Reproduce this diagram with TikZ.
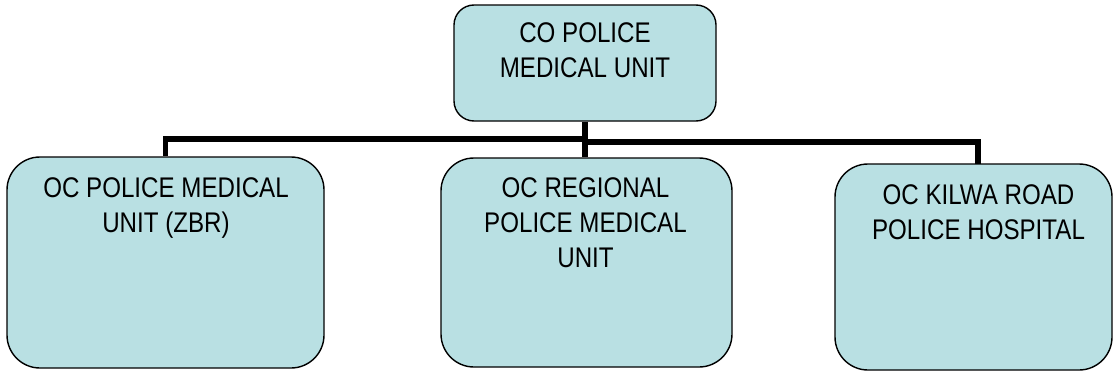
\documentclass[tikz,border=0pt]{standalone}
\usepackage{fontspec}
\setmainfont[FakeStretch=0.85]{Liberation Sans}
\definecolor{boxfill}{RGB}{185,224,227}
\begin{document}
\begin{tikzpicture}[x=1pt,y=-1pt,
  orgbox/.style={draw=black, line width=1.4pt, fill=boxfill, rounded corners=#1, inner sep=0pt},
  orgbox/.default=33pt,
  lbl/.style={anchor=north, inner sep=0pt, align=center, text=black,
    font=\fontsize{28.4}{35}\selectfont},
  wire/.style={draw=black, line width=5.5pt}]
\useasboundingbox (0,0) rectangle (1115,372);
% boxes
\node[orgbox=20pt, minimum width=262pt, minimum height=116pt] (top) at (585,63) {};
\node[orgbox, minimum width=317pt, minimum height=211pt] (left) at (165.5,262.5) {};
\node[orgbox, minimum width=291pt, minimum height=209pt] (mid) at (586.5,262.5) {};
\node[orgbox, minimum width=277pt, minimum height=206pt] (right) at (973.5,267) {};
% texts
\node[lbl] (ttop) at (585,22.5) {CO POLICE\\MEDICAL UNIT};
\node[lbl] (tleft) at (166,177.5) {OC POLICE MEDICAL\\UNIT (ZBR)};
\node[lbl] (tmid) at (585.5,177.5) {OC REGIONAL\\POLICE MEDICAL\\UNIT};
\node[lbl] (tright) at (978.5,184.5) {OC KILWA ROAD\\POLICE HOSPITAL};
% connectors
\coordinate (jl) at (585,139);
\coordinate (jr) at (585,142);
\coordinate (rin) at (978,164);
\draw[wire] (top.south) -- (top.south |- mid.north);
\draw[wire] (jl) -| (left.north);
\draw[wire] (jr) -| (rin);
\end{tikzpicture}
\end{document}
